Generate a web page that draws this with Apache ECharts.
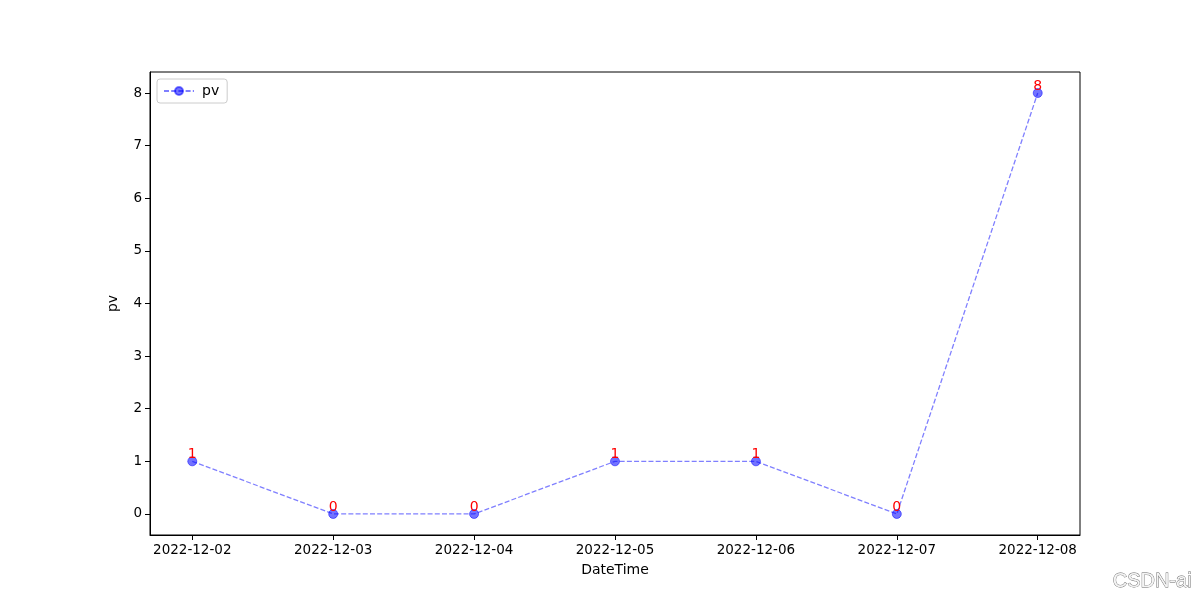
<!DOCTYPE html>
<html>
<head>
<meta charset="utf-8">
<script src="https://cdn.jsdelivr.net/npm/echarts@6/dist/echarts.min.js"></script>
<style>html,body{margin:0;padding:0;background:#fff}#c{width:1200px;height:600px}</style>
</head>
<body>
<div id="c"></div>
<script>
const categories = ['2022-12-02','2022-12-03','2022-12-04','2022-12-05','2022-12-06','2022-12-07','2022-12-08'];
const pvValues = [1, 0, 0, 1, 1, 0, 8];
const yTicks = [0, 1, 2, 3, 4, 5, 6, 7, 8];

const font = 'DejaVu Sans';
const chart = echarts.init(document.getElementById('c'));
const xIdx = categories.map((_, i) => i);
chart.setOption({
  animation: false,
  backgroundColor: '#fff',
  textStyle: { fontFamily: font },
  grid: { left: 150, right: 120, top: 72, bottom: 65, show: true, borderColor: '#000', borderWidth: 1, backgroundColor: 'transparent' },
  legend: {
    show: true, left: 157, top: 79, orient: 'vertical',
    padding: [5, 8, 5, 6],
    borderColor: '#ccc', borderWidth: 1, borderRadius: 3,
    itemWidth: 30, itemHeight: 10, itemGap: 6,
    textStyle: { fontFamily: font, fontSize: 14, color: '#000', padding: [0, 0, 0, 3] },
    data: ['pv']
  },
  xAxis: {
    type: 'value', min: -0.3, max: 6.3,
    name: 'DateTime', nameLocation: 'middle', nameGap: 28,
    nameTextStyle: { fontFamily: font, fontSize: 14, color: '#000' },
    splitLine: { show: false },
    axisLine: { show: true, onZero: false, lineStyle: { color: '#000', width: 1 } },
    axisTick: { show: true, inside: false, length: 5, lineStyle: { color: '#000' }, customValues: xIdx },
    axisLabel: { color: '#000', fontSize: 13.5, fontFamily: font, margin: 8, customValues: xIdx,
      formatter: v => categories[Math.round(v)] }
  },
  yAxis: {
    type: 'value', min: -0.4, max: 8.4,
    name: 'pv', nameLocation: 'middle', nameGap: 30,
    nameTextStyle: { fontFamily: font, fontSize: 14, color: '#000' },
    splitLine: { show: false },
    axisLine: { show: true, onZero: false, lineStyle: { color: '#000', width: 1 } },
    axisTick: { show: true, inside: false, length: 5, lineStyle: { color: '#000' }, customValues: yTicks },
    axisLabel: { color: '#000', fontSize: 13.5, fontFamily: font, margin: 8, customValues: yTicks }
  },
  series: [{
    name: 'pv', type: 'line',
    data: pvValues.map((v, i) => [i, v]),
    symbol: 'circle', symbolSize: 9,
    lineStyle: { color: 'rgba(0,0,255,0.5)', width: 1.3, type: [5, 2.2] },
    itemStyle: { color: 'rgba(0,0,255,0.55)', borderColor: 'rgba(0,0,255,0.5)', borderWidth: 1 },
    label: { show: true, position: 'top', distance: -5, color: '#ff0000', fontSize: 14, fontFamily: font,
      formatter: p => String(p.value[1]) },
    emphasis: { disabled: true }
  }],
  graphic: [{
    type: 'text', right: 8, top: 571,
    style: { text: 'CSDN-ai', fontFamily: 'Liberation Sans', fontSize: 20, fill: '#f4f4f4', stroke: '#666', lineWidth: 0.8 }
  }]
});
</script>
</body>
</html>
